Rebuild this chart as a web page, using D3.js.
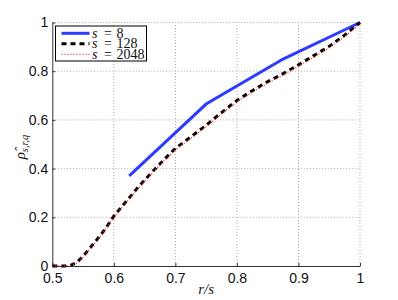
<!DOCTYPE html>
<html>
<head>
<meta charset="utf-8">
<script src="https://cdn.jsdelivr.net/npm/d3@7"></script>
<style>
body { margin: 0; background: #fff; }
svg { display: block; }
</style>
</head>
<body>
<div id="chart"></div>
<script>
// tick labels
var xTicks = [0.5, 0.6, 0.7, 0.8, 0.9, 1]
var xTickLabels = ['0.5', '0.6', '0.7', '0.8', '0.9', '1']
var yTicks = [0, 0.2, 0.4, 0.6, 0.8, 1]
var yTickLabels = ['0', '0.2', '0.4', '0.6', '0.8', '1']

// s = 8
var rs8 = [0.625, 0.75, 0.875, 1]
var rho8 = [0.37, 0.665, 0.85, 1]

// s = 128
var rs128 = [0.5, 0.52, 0.53, 0.54, 0.55, 0.56, 0.57, 0.58, 0.59, 0.6, 0.62, 0.64, 0.66, 0.68, 0.7,
	0.725, 0.75, 0.775, 0.8, 0.825, 0.85, 0.875, 0.9, 0.925, 0.95, 0.975, 1]
var rho128 = [0, 0, 0.003, 0.015, 0.04, 0.07, 0.1, 0.132, 0.167, 0.205, 0.265, 0.325, 0.38, 0.433, 0.483,
	0.53, 0.578, 0.63, 0.68, 0.72, 0.757, 0.79, 0.826, 0.864, 0.902, 0.948, 1]

// s = 2048
var rs2048 = [0.5, 0.52, 0.53, 0.54, 0.55, 0.56, 0.57, 0.58, 0.59, 0.6, 0.62, 0.64, 0.66, 0.68, 0.7,
	0.725, 0.75, 0.775, 0.8, 0.825, 0.85, 0.875, 0.9, 0.925, 0.95, 0.975, 1]
var rho2048 = [0, 0, 0.002, 0.012, 0.036, 0.066, 0.096, 0.128, 0.163, 0.2, 0.26, 0.32, 0.375, 0.428, 0.477,
	0.524, 0.572, 0.624, 0.674, 0.714, 0.751, 0.784, 0.82, 0.858, 0.896, 0.942, 0.995]

var series = [
	{ 'label': '8', 'x': rs8, 'y': rho8, 'color': '#2b3cff', 'width': 3, 'dash': null },
	{ 'label': '128', 'x': rs128, 'y': rho128, 'color': '#000', 'width': 3, 'dash': '5,4' },
	{ 'label': '2048', 'x': rs2048, 'y': rho2048, 'color': '#ff2a2a', 'width': 1.3, 'dash': '1,2' }
]

var W = 398, H = 300
var margin = { 'top': 22.5, 'right': 38, 'bottom': 34, 'left': 52.3 }

var xScale = d3.scaleLinear()
	.domain([0.5, 1])
	.range([margin.left, W - margin.right])

var yScale = d3.scaleLinear()
	.domain([0, 1])
	.range([H - margin.bottom, margin.top])

var svg = d3.select('#chart')
	.append('svg')
	.attr('width', W)
	.attr('height', H)

// grid
var grid = svg.append('g')
	.attr('stroke', '#a8a8a8')
	.attr('stroke-width', 1)
	.attr('stroke-dasharray', '1,2')

grid.selectAll('.gx')
	.data(xTicks.slice(1))
	.enter()
	.append('line')
	.attr('x1', function(d) { return xScale(d) })
	.attr('x2', function(d) { return xScale(d) })
	.attr('y1', yScale(0))
	.attr('y2', yScale(1))

grid.selectAll('.gy')
	.data(yTicks.slice(1))
	.enter()
	.append('line')
	.attr('y1', function(d) { return yScale(d) })
	.attr('y2', function(d) { return yScale(d) })
	.attr('x1', xScale(0.5))
	.attr('x2', xScale(1))

// axes
var xAxis = d3.axisBottom(xScale)
	.tickValues(xTicks)
	.tickFormat(function(d, i) { return xTickLabels[i] })
	.tickSizeInner(-3)
	.tickSizeOuter(0)
	.tickPadding(7)

var yAxis = d3.axisLeft(yScale)
	.tickValues(yTicks)
	.tickFormat(function(d, i) { return yTickLabels[i] })
	.tickSizeInner(-3)
	.tickSizeOuter(0)
	.tickPadding(4)

var gx = svg.append('g')
	.attr('transform', 'translate(0,' + yScale(0) + ')')
	.call(xAxis)

var gy = svg.append('g')
	.attr('transform', 'translate(' + xScale(0.5) + ',0)')
	.call(yAxis)

;[gx, gy].forEach(function(g) {
	g.select('.domain').attr('stroke', '#333')
	g.selectAll('.tick line').attr('stroke', '#333')
	g.selectAll('.tick text')
		.attr('fill', '#111')
		.style('font-family', '"Liberation Sans", Arial, sans-serif')
		.style('font-size', '14px')
})

// lines
var plot = svg.append('g')

series.forEach(function(s) {
	var pts = s.x.map(function(v, i) { return [v, s.y[i]] })
	var line = d3.line()
		.x(function(d) { return xScale(d[0]) })
		.y(function(d) { return yScale(d[1]) })
	plot.append('path')
		.datum(pts)
		.attr('d', line)
		.attr('fill', 'none')
		.attr('stroke', s.color)
		.attr('stroke-width', s.width)
		.attr('stroke-dasharray', s.dash)
})

// legend
var lg = svg.append('g').attr('transform', 'translate(55.5,26)')

lg.append('rect')
	.attr('width', 91)
	.attr('height', 35)
	.attr('fill', '#fff')
	.attr('stroke', '#000')
	.attr('stroke-width', 1)

series.forEach(function(s, i) {
	var cy = 7.3 + i * 10.5
	lg.append('line')
		.attr('x1', 6)
		.attr('x2', 34)
		.attr('y1', cy)
		.attr('y2', cy)
		.attr('stroke', s.color)
		.attr('stroke-width', s.width)
		.attr('stroke-dasharray', s.dash)

	var t = lg.append('text')
		.attr('y', cy + 4.2)
		.style('font-family', '"Liberation Serif", "Times New Roman", serif')
		.style('font-size', '14px')
		.attr('fill', '#111')
	t.append('tspan').attr('x', 36.5).style('font-style', 'italic').text('s')
	t.append('tspan').attr('x', 48.5).text('=')
	t.append('tspan').attr('x', 61).text(s.label)
})

// axis labels
svg.append('text')
	.attr('x', (xScale(0.5) + xScale(1)) / 2)
	.attr('y', 294)
	.attr('text-anchor', 'middle')
	.style('font-family', '"Liberation Serif", "Times New Roman", serif')
	.style('font-size', '15px')
	.style('font-style', 'italic')
	.attr('fill', '#111')
	.text('r/s')

var yl = svg.append('text')
	.attr('transform', 'translate(25,147) rotate(-90)')
	.attr('text-anchor', 'middle')
	.style('font-family', '"Liberation Serif", "Times New Roman", serif')
	.style('font-size', '15px')
	.style('font-style', 'italic')
	.attr('fill', '#111')
yl.append('tspan').text('ρ\u0302')
yl.append('tspan')
	.attr('dy', 3)
	.style('font-size', '10.5px')
	.text('s,r,q')
</script>
</body>
</html>
